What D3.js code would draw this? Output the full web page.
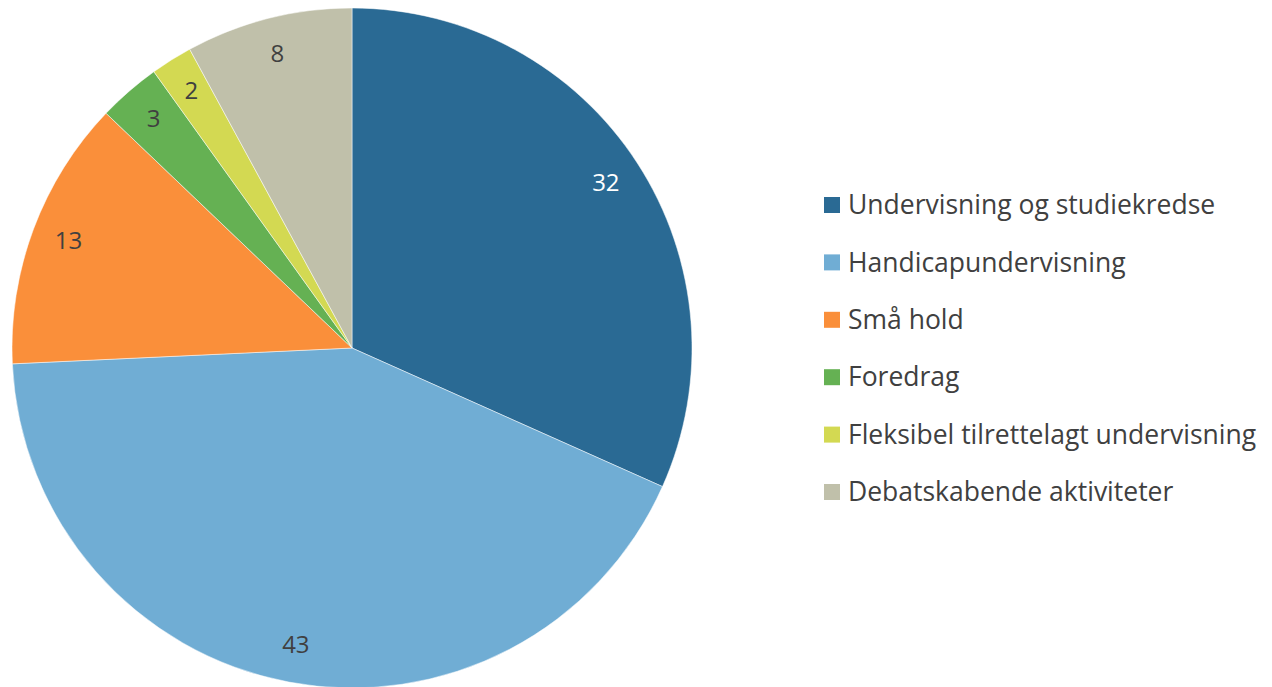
<!DOCTYPE html>
<html lang="da">
<head>
  <meta charset="UTF-8">
  <title>Fordeling af aktiviteter</title>
  <style>
    body{ margin:0; background:#fff; }
    text{ font-family: "Open Sans", "Noto Sans", sans-serif; }
    .slice-label{ fill:#404040; font-size:24px; }
    .legend-text{ fill:#404040; font-size:26.5px; }
  </style>
</head>
<body>
  <script src="https://cdn.jsdelivr.net/npm/d3@7"></script>
  <script>
    const width = 1272, height = 687;
    const categories = ['Undervisning og studiekredse', 'Handicapundervisning', 'Små hold',
      'Foredrag', 'Fleksibel tilrettelagt undervisning', 'Debatskabende aktiviteter'];
    const values = [32, 43, 13, 3, 2, 8];
    const colors = ['#2a6a94', '#70add4', '#fa8f3a', '#65b153', '#d3d952', '#c0c0aa'];
    const labelColors = ['#ffffff', '#404040', '#404040', '#404040', '#404040', '#404040'];

    const cx = 352, cy = 348, radius = 340;

    const svg = d3.select('body').append('svg')
      .attr('width', width)
      .attr('height', height);

    const data = categories.map((c, i) => ({ name: c, value: values[i], i }));
    const pie = d3.pie().value(d => d.value).sort(null);
    const arc = d3.arc().innerRadius(0).outerRadius(radius);
    const labelArc = d3.arc().innerRadius(radius * 0.89).outerRadius(radius * 0.89);
    const color = d3.scaleOrdinal().domain(categories).range(colors);

    const g = svg.append('g').attr('transform', `translate(${cx},${cy})`);
    const arcs = pie(data);

    g.selectAll('path')
      .data(arcs)
      .enter().append('path')
      .attr('d', arc)
      .attr('fill', d => color(d.data.name))
      .attr('stroke', '#ffffff')
      .attr('stroke-width', 0.5);

    g.selectAll('text.slice-label')
      .data(arcs)
      .enter().append('text')
      .attr('class', 'slice-label')
      .attr('transform', d => `translate(${labelArc.centroid(d)})`)
      .attr('text-anchor', 'middle')
      .attr('dy', '0.3em')
      .style('fill', d => labelColors[d.data.i])
      .text(d => d.data.value);

    // legend
    const legendY = d3.scalePoint().domain(categories).range([205, 492]);
    const legend = svg.append('g').attr('class', 'legend');
    const items = legend.selectAll('g')
      .data(categories)
      .enter().append('g')
      .attr('transform', d => `translate(824,${legendY(d)})`);
    items.append('rect')
      .attr('x', 0).attr('y', -8)
      .attr('width', 16).attr('height', 16)
      .attr('fill', d => color(d));
    items.append('text')
      .attr('class', 'legend-text')
      .attr('x', 24)
      .attr('dy', '0.35em')
      .text(d => d);
  </script>
</body>
</html>
